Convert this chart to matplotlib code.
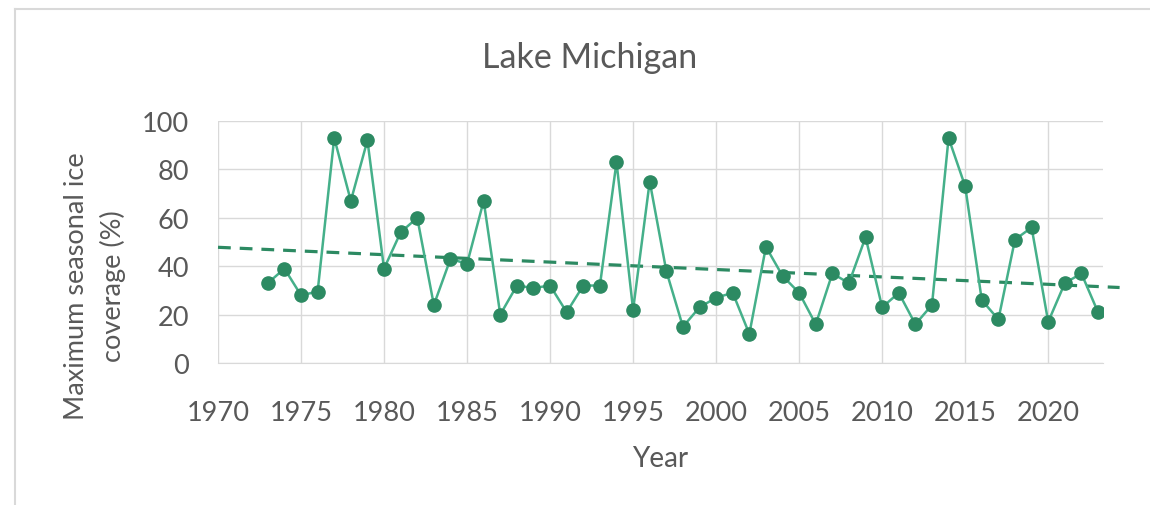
import matplotlib.pyplot as plt
import numpy as np
from matplotlib.lines import Line2D

# Maximum seasonal ice coverage, Lake Michigan
years = list(range(1973, 2024))
ice = [33, 39, 28, 29.5, 93, 67, 92, 39, 54, 60,
       24, 43, 41, 67, 20, 32, 31, 32, 21, 32,
       32, 83, 22, 75, 38, 15, 23, 27, 29, 12,
       48, 36, 29, 16, 37, 33, 52, 23, 29, 16,
       24, 93, 73, 26, 18, 51, 56, 17, 33, 37, 21]
xticks = list(range(1970, 2021, 5))
yticks = [0, 20, 40, 60, 80, 100]

plt.rcParams['font.family'] = ['Lato', 'DejaVu Sans']
grey = '#595959'
W, H = 1150, 506

fig = plt.figure(figsize=(11.5, 5.06), dpi=100)
ax = fig.add_axes([218 / W, 1 - 364 / H, (1103 - 218) / W, (364 - 122) / H])

# chart border (top and left edge visible)
fig.add_artist(Line2D([15 / W, 1], [1 - 10 / H, 1 - 10 / H], color='#d9d9d9', linewidth=1.5))
fig.add_artist(Line2D([15 / W, 15 / W], [0, 1 - 10 / H], color='#d9d9d9', linewidth=1.5))

ax.plot(years, ice, color='#45b08a', linewidth=1.8, marker='o',
        markersize=9.5, markerfacecolor='#2c8a62', markeredgecolor='#2c8a62', zorder=3)

# linear trend
coef = np.polyfit(years, ice, 1)
tx = np.array([1970, 2024.3])
ax.plot(tx, np.polyval(coef, tx), color='#2c8a62', linestyle=(0, (4, 2.8)),
        linewidth=2.3, clip_on=False, zorder=2)

ax.set_xlim(1970, 2023.3)
ax.set_ylim(0, 100)
ax.set_xticks(xticks)
ax.set_yticks(yticks)
ax.grid(color='#d9d9d9', linewidth=1)
ax.set_axisbelow(True)
for s in ['top', 'right', 'left']:
    ax.spines[s].set_visible(False)
ax.spines['bottom'].set_color('#d9d9d9')
ax.tick_params(length=0, labelsize=19.5, colors=grey, pad=21)
ax.tick_params(axis='x', pad=27)

fig.text(590 / W, 1 - 58 / H, 'Lake Michigan', fontsize=24.5, color=grey,
         ha='center', va='center')
ax.set_xlabel('Year', fontsize=20, color=grey)
ax.xaxis.set_label_coords(0.5, (364 - 446) / 242)
fig.text(95 / W, 1 - 286 / H, 'Maximum seasonal ice\ncoverage (%)', fontsize=19.5,
         color=grey, rotation=90, ha='center', va='center', linespacing=1.55)

fig.savefig('out.png', dpi=100)
